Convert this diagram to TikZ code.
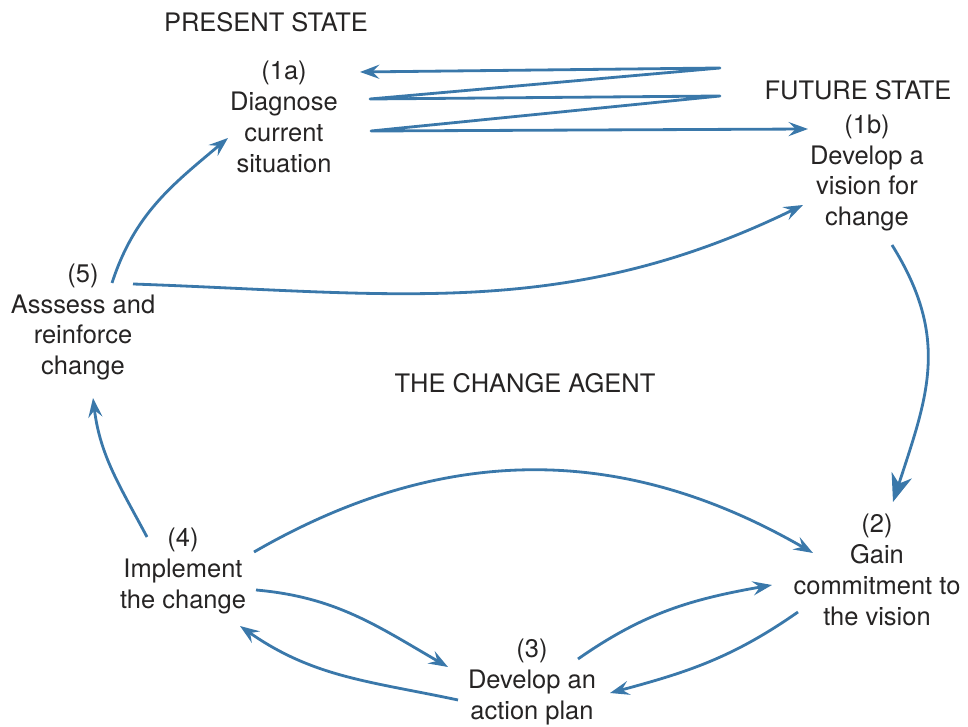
\documentclass[tikz,border=0pt]{standalone}
\usepackage{fontspec}
\setmainfont{TeX Gyre Heros}
\usetikzlibrary{arrows.meta, positioning}
\definecolor{flowblue}{RGB}{58,120,170}
\definecolor{inkgray}{RGB}{38,36,36}

\begin{document}
\begin{tikzpicture}[
  x=0.02cm, y=0.02cm,
  >={Stealth[length=11pt, width=8pt, inset=4pt]},
  flow/.style    = {draw=flowblue, line width=1.6pt, ->},
  bighead/.style = {-{Stealth[length=16pt, width=12pt, inset=5pt]}},
  stage/.style   = {align=center, inner sep=0pt, text=inkgray, font=\fontsize{14.5}{17.6}\selectfont},
  caption/.style = {inner sep=0pt, text=inkgray, font=\fontsize{14.5}{17.6}\selectfont},
]
\useasboundingbox (0,0) rectangle (968,727);

%── Stages ────────────────────────────────────────────────────────────────────
\node[stage] (diag)      at (284,610) {(1a)\\Diagnose\\current\\situation};
\node[stage] (vision)    at (867,554) {(1b)\\Develop a\\vision for\\change};
\node[stage] (commit)    at (877,157) {(2)\\Gain\\commitment to\\the vision};
\node[stage] (plan)      at (532,45)  {(3)\\Develop an\\action plan};
\node[stage] (implement) at (183,156) {(4)\\Implement\\the change};
\node[stage] (assess)    at (83,405)  {(5)\\Asssess and\\reinforce\\change};

%── Captions ──────────────────────────────────────────────────────────────────
\node[caption] (present) at (266,705) {PRESENT STATE};
\node[caption] (future)  at (858,637) {FUTURE STATE};
\node[caption] (agent)   at (525,344) {THE CHANGE AGENT};

%── Zigzag corners (present <-> future) ───────────────────────────────────────
\coordinate (zzL) at (360,655);
\coordinate (zz1) at (720,659);
\coordinate (zz2) at (370,628);
\coordinate (zz3) at (720,631);
\coordinate (zz4) at (371,596);
\coordinate (zzR) at (808,598);

%── Arrow ends ────────────────────────────────────────────────────────────────
\coordinate (assessN)  at (112,444);   % (5) up to (1a)
\coordinate (diagSW)   at (228,589);
\coordinate (assessE)  at (133,443);   % (5) over to (1b)
\coordinate (visionW)  at (803,522);
\coordinate (visionS)  at (892,482);   % (1b) down to (2)
\coordinate (commitN)  at (893,225);
\coordinate (implN)    at (147,190);   % (4) up to (5)
\coordinate (assessS)  at (93,329);
\coordinate (implNE)   at (254,175);   % (4) arc to (2)
\coordinate (commitNW) at (813,174);
\coordinate (implE)    at (256,137);   % (4) <-> (3)
\coordinate (planNW)   at (448,60);
\coordinate (planW)    at (458,27);
\coordinate (implSE)   at (240,101);
\coordinate (planNE)   at (578,68);    % (3) <-> (2)
\coordinate (commitW)  at (772,142);
\coordinate (commitSW) at (798,115);
\coordinate (planE)    at (610,34);

%── Connectors ────────────────────────────────────────────────────────────────
\draw[flow, <->, line join=round] (zzL) -- (zz1) -- (zz2) -- (zz3) -- (zz4) -- (zzR);

\draw[flow] (assessN)  to[out=72,  in=220] (diagSW);
\draw[flow] (assessE)  to[out=-2,  in=206] (visionW);
\draw[flow, bighead] (visionS) to[out=-58, in=72, looseness=1.1] (commitN);
\draw[flow] (implN)    to[out=118, in=-83] (assessS);
\draw[flow] (implNE)   to[out=30,  in=150] (commitNW);
\draw[flow] (implE)    to[out=-5,  in=150] (planNW);
\draw[flow] (planW)    to[out=168, in=-35] (implSE);
\draw[flow] (planNE)   to[out=35,  in=190] (commitW);
\draw[flow] (commitSW) to[out=215, in=15]  (planE);

\end{tikzpicture}
\end{document}
